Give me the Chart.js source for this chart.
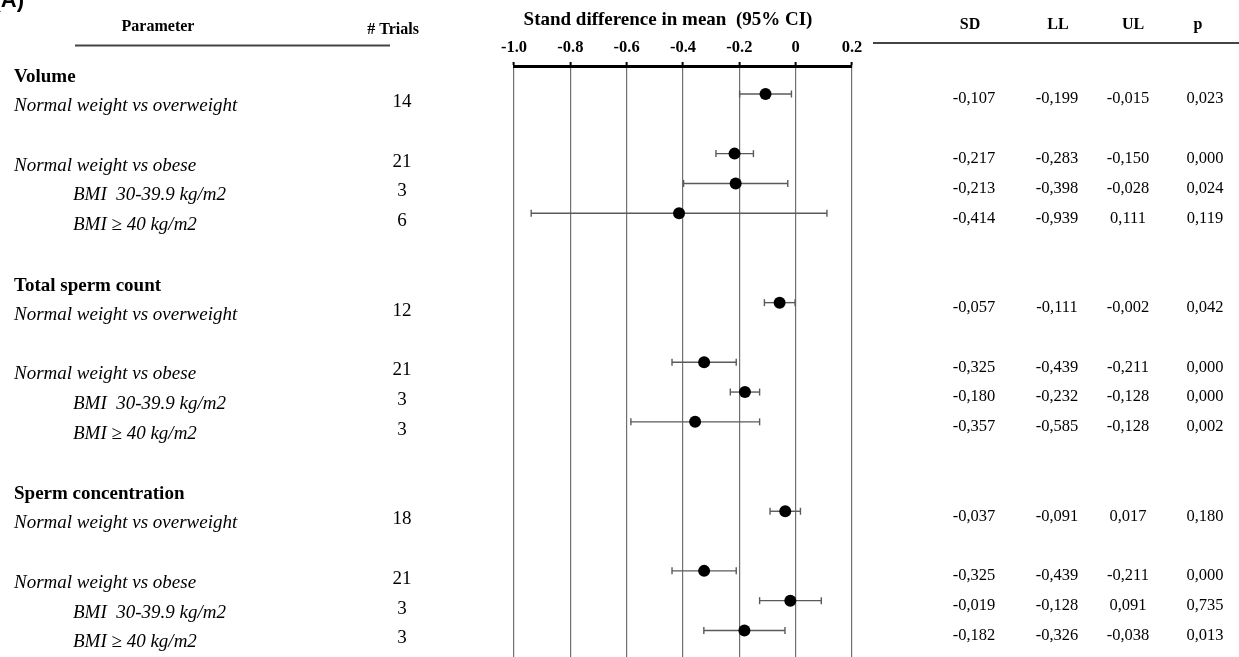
<!DOCTYPE html>
<html>
<head>
<meta charset="utf-8">
<script src="https://cdn.jsdelivr.net/npm/chart.js@4/dist/chart.umd.min.js"></script>
<style>
html,body{margin:0;padding:0;background:#fff;}
canvas{display:block;}
</style>
</head>
<body>
<canvas id="c" width="1239" height="657"></canvas>
<script>
// ---- data ----
const sections = ['Volume', 'Total sperm count', 'Sperm concentration'];
const sectionFirstRow = [0, 4, 8];
const comparisons = [
  'Normal weight vs overweight', 'Normal weight vs obese', 'BMI  30-39.9 kg/m2', 'BMI \u2265 40 kg/m2',
  'Normal weight vs overweight', 'Normal weight vs obese', 'BMI  30-39.9 kg/m2', 'BMI \u2265 40 kg/m2',
  'Normal weight vs overweight', 'Normal weight vs obese', 'BMI  30-39.9 kg/m2', 'BMI \u2265 40 kg/m2'
];
const indented = [false, false, true, true, false, false, true, true, false, false, true, true];
const rowIndex = [0, 2, 3, 4, 7, 9, 10, 11, 14, 16, 17, 18];
const trials = [14, 21, 3, 6, 12, 21, 3, 3, 18, 21, 3, 3];
const sd = [-0.107, -0.217, -0.213, -0.414, -0.057, -0.325, -0.180, -0.357, -0.037, -0.325, -0.019, -0.182];
const ll = [-0.199, -0.283, -0.398, -0.939, -0.111, -0.439, -0.232, -0.585, -0.091, -0.439, -0.128, -0.326];
const ul = [-0.015, -0.150, -0.028, 0.111, -0.002, -0.211, -0.128, -0.128, 0.017, -0.211, 0.091, -0.038];
const pval = [0.023, 0.000, 0.024, 0.119, 0.042, 0.000, 0.000, 0.002, 0.180, 0.000, 0.735, 0.013];
const tickLabels = {'-1': '-1.0', '-0.8': '-0.8', '-0.6': '-0.6', '-0.4': '-0.4', '-0.2': '-0.2', '0': '0', '0.2': '0.2'};
const axisTitle = 'Stand difference in mean  (95% CI)';
const colHeaders = ['SD', 'LL', 'UL', 'p'];

const fmt = v => v.toFixed(3).replace('.', ',');
const SERIF = '"Liberation Serif", "Times New Roman", serif';

// ---- datasets ----
const datasets = [];
datasets.push({
  type: 'scatter',
  label: 'SD',
  data: sd.map((v, i) => ({x: v, y: rowIndex[i]})),
  pointRadius: 6,
  pointBackgroundColor: '#000',
  pointBorderColor: '#000',
  pointBorderWidth: 0,
  order: 0
});
sd.forEach((v, i) => {
  datasets.push({
    type: 'line',
    label: 'CI ' + i,
    data: [{x: ll[i], y: rowIndex[i]}, {x: ul[i], y: rowIndex[i]}],
    borderColor: '#5a5a5a',
    borderWidth: 1.4,
    pointStyle: 'line',
    rotation: 90,
    pointRadius: 3.5,
    pointBorderColor: '#5a5a5a',
    pointBorderWidth: 1.4,
    order: 1
  });
});

// ---- text plugin ----
const textPlugin = {
  id: 'forestText',
  afterDraw(chart) {
    const ctx = chart.ctx;
    const ys = chart.scales.y;
    const xs = chart.scales.x;
    ctx.save();
    ctx.fillStyle = '#000';

    // panel letter (partially cut at top)
    ctx.font = 'bold 22px "Liberation Sans", Arial, sans-serif';
    ctx.textAlign = 'right';
    ctx.textBaseline = 'alphabetic';
    ctx.fillText('(A)', 24, 7);
    ctx.textBaseline = 'middle';

    // forest title
    ctx.font = 'bold 19px ' + SERIF;
    ctx.textAlign = 'center';
    ctx.fillText(axisTitle, (xs.getPixelForValue(-1) + xs.getPixelForValue(0.2)) / 2 - 15, 20);

    // left headers
    ctx.font = 'bold 16px ' + SERIF;
    ctx.fillText('Parameter', 158, 27);
    ctx.fillText('# Trials', 393, 30);
    colHeaders.forEach((h, k) => ctx.fillText(h, [970, 1058, 1133, 1198][k], 25));

    // header rules
    ctx.strokeStyle = '#444';
    ctx.lineWidth = 2;
    ctx.beginPath();
    ctx.moveTo(75, 45.5); ctx.lineTo(390, 45.5);
    ctx.moveTo(873, 43); ctx.lineTo(1239, 43);
    ctx.stroke();

    // section headers
    ctx.textAlign = 'left';
    ctx.font = 'bold 19px ' + SERIF;
    sections.forEach((s, k) => {
      const y = ys.getPixelForValue(rowIndex[sectionFirstRow[k]]) - 17;
      ctx.fillText(s, 14, y);
    });

    // rows
    comparisons.forEach((c, i) => {
      const y = ys.getPixelForValue(rowIndex[i]);
      ctx.textAlign = 'left';
      ctx.font = 'italic 19px ' + SERIF;
      ctx.fillText(c, indented[i] ? 73 : 14, y + 12);
      ctx.textAlign = 'center';
      ctx.font = '19px ' + SERIF;
      ctx.fillText(String(trials[i]), 402, y + 8);
      ctx.font = '16.5px ' + SERIF;
      ctx.fillText(fmt(sd[i]), 974, y + 5);
      ctx.fillText(fmt(ll[i]), 1057, y + 5);
      ctx.fillText(fmt(ul[i]), 1128, y + 5);
      ctx.fillText(fmt(pval[i]), 1205, y + 5);
    });
    ctx.restore();
  }
};

new Chart(document.getElementById('c'), {
  data: {datasets},
  options: {
    responsive: false,
    animation: false,
    devicePixelRatio: 1,
    layout: {autoPadding: false, padding: {left: 514, right: 387, top: 0, bottom: 0}},
    plugins: {legend: {display: false}, tooltip: {enabled: false}},
    scales: {
      x: {
        type: 'linear',
        position: 'top',
        min: -1,
        max: 0.2,
        afterFit(scale) { scale.height = 66; },
        ticks: {
          stepSize: 0.2,
          color: '#000',
          padding: 4,
          font: {family: SERIF, weight: 'bold', size: 16.5},
          callback: v => tickLabels[String(Math.round(v * 10) / 10)] ?? ''
        },
        grid: {color: '#707070', lineWidth: 1.2, drawTicks: true, tickLength: 4, tickColor: '#000', tickWidth: 2},
        border: {color: '#000', width: 3},
        title: {display: false}
      },
      y: {
        type: 'linear',
        display: false,
        reverse: true,
        min: -0.94,
        max: 18.89
      }
    }
  },
  plugins: [textPlugin]
});
</script>
</body>
</html>
